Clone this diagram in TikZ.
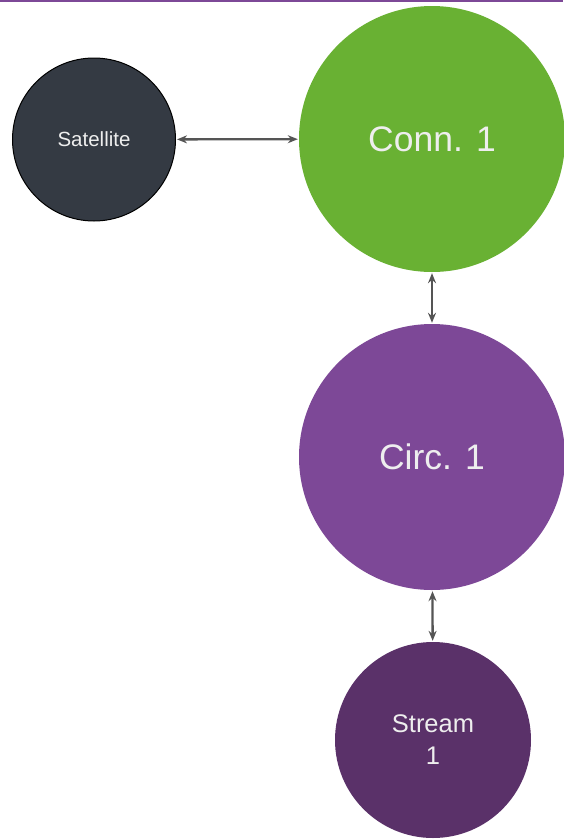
\documentclass[tikz,border=0pt]{standalone}
\usepackage{fontspec}
\setmainfont{Liberation Sans}
\usetikzlibrary{arrows.meta}
\definecolor{connGreen}{HTML}{69B133}
\definecolor{satDark}{HTML}{343A43}
\definecolor{circPurple}{HTML}{7D4897}
\definecolor{streamPurple}{HTML}{5A3169}
\definecolor{labelWhite}{HTML}{EEEEEE}
\definecolor{linkGray}{HTML}{555555}
\begin{document}
\begin{tikzpicture}[x=1pt,y=-1pt,
  bubble/.style={circle, inner sep=0pt, text=labelWhite, align=center},
  link/.style={draw=linkGray, line width=2.3pt,
    {Stealth[length=10pt,width=8pt]}-{Stealth[length=10pt,width=8pt]}, shorten <=1pt, shorten >=1pt}]
  \useasboundingbox (0,0) rectangle (563,839);
  % thin rule along the top edge
  \fill[circPurple] (0,0) rectangle (563,2);
  % nodes
  \node[bubble, fill=satDark, draw=black, line width=1pt, minimum size=163pt,
        font=\fontsize{20.5}{24}\selectfont] (sat) at (94,139.5) {Satellite};
  \node[bubble, fill=connGreen, minimum size=266pt,
        font=\fontsize{35.5}{40}\selectfont] (conn) at (432,139) {Conn. 1};
  \node[bubble, fill=circPurple, minimum size=266pt,
        font=\fontsize{35.5}{40}\selectfont] (circ) at (432,457) {Circ. 1};
  \node[bubble, fill=streamPurple, minimum size=196pt,
        font=\fontsize{25.5}{32}\selectfont] (stream) at (433,740) {Stream\\1};
  % connectors
  \draw[link] (sat) -- (conn);
  \draw[link] (conn) -- (circ);
  \draw[link] (circ) -- (stream);
\end{tikzpicture}
\end{document}
